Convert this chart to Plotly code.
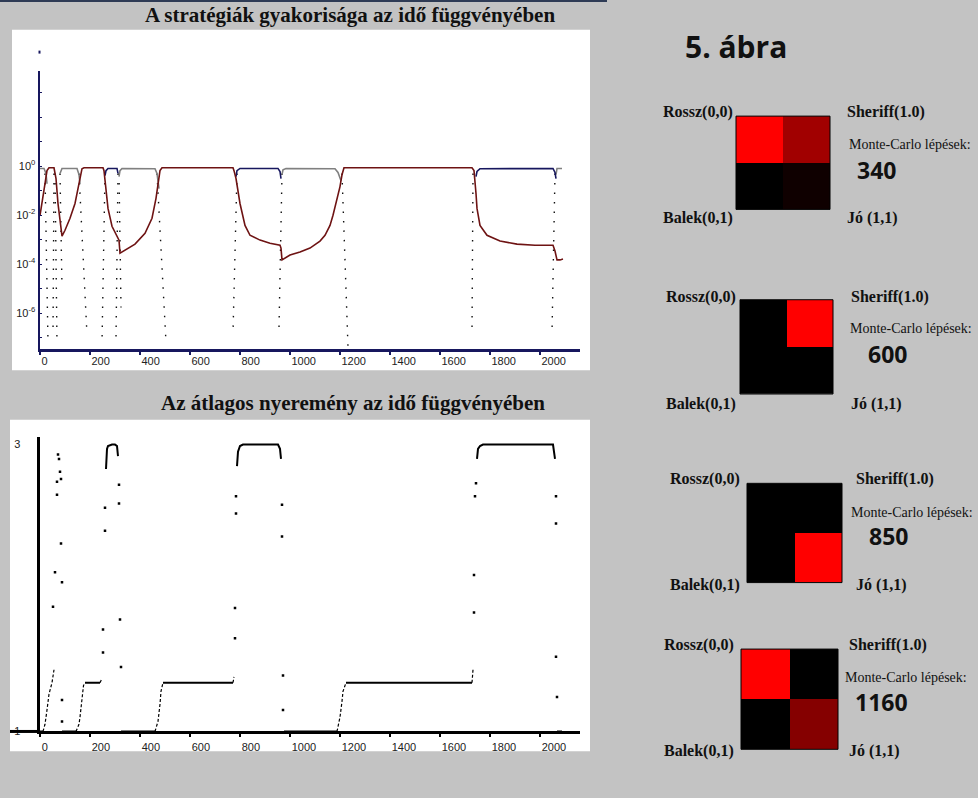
import plotly.graph_objects as go

W, H = 978, 798


def px(x):
    return x / W


def py(y):
    return 1 - y / H


# ---------------- data: strategy frequencies (top chart) ----------------
red_t = [2, 14, 22, 30, 38, 58, 66, 74, 82, 90, 102, 122, 142, 154, 162, 170, 178, 254, 258, 266,
         274, 290, 306, 318, 322, 342, 382, 422, 450, 466, 474, 482, 490, 774, 778, 786, 802, 822,
         842, 882, 922, 962, 966, 970, 1002, 1042, 1082, 1122, 1142, 1162, 1174, 1190, 1202, 1210,
         1218, 1730, 1738, 1746, 1750, 1762, 1790, 1842, 1910, 1982, 2054, 2062, 2070, 2082, 2094]
red_v = [0.0098, 0.048, 0.19, 0.65, 0.85, 0.85, 0.31, 0.0295, 0.0046, 0.00138, 0.0024, 0.0074,
         0.0297, 0.12, 0.37, 0.78, 0.85, 0.85, 0.65, 0.076, 0.0187, 0.0035, 0.00166, 0.00095,
         0.00028, 0.00037, 0.00065, 0.0018, 0.0074, 0.048, 0.23, 0.65, 0.85, 0.85, 0.65, 0.31,
         0.0297, 0.0038, 0.0015, 0.00095, 0.00071, 0.00059, 0.00045, 0.000148, 0.000234, 0.00031,
         0.00045, 0.00087, 0.0015, 0.0038, 0.0098, 0.048, 0.145, 0.44, 0.85, 0.85, 0.65, 0.076,
         0.0187, 0.0038, 0.0015, 0.00087, 0.00065, 0.00059, 0.00059, 0.00034, 0.000148, 0.000148,
         0.00016]

navy_t = [262, 266, 274, 310, 314, None, 786, 790, 802, 954, 962, 966, None,
          1746, 1750, 1762, 2054, 2062, 2066]
navy_v = [0.41, 0.65, 0.8, 0.8, 0.5, None, 0.37, 0.65, 0.8, 0.8, 0.6, 0.31, None,
          0.37, 0.6, 0.78, 0.8, 0.55, 0.31]

gray_t = [2, 18, 26, 30, None, 82, 90, 150, 158, 162, None, 318, 322, 330, 462, 470, 478, None,
          970, 974, 986, 1182, 1194, 1206, None, 2066, 2070, 2090]
gray_v = [0.8, 0.8, 0.5, 0.19, None, 0.5, 0.8, 0.8, 0.45, 0.19, None, 0.37, 0.65, 0.8, 0.78, 0.5,
          0.12, None, 0.45, 0.7, 0.8, 0.78, 0.55, 0.25, None, 0.45, 0.8, 0.8]

# fast extinctions / invasions (sparsely sampled, shown dotted)
trans_t_top = [22, 58, 62, 82, 158, 262, 314, 318, 470, 790, 970, 1210, 1734, 2062]
trans_t_bot = [34, 54, 70, 90, 190, 250, 306, 326, 506, 774, 958, 1234, 1730, 2050]
trans_v_top = [0.5, 0.5, 0.5, 0.5, 0.5, 0.5, 0.5, 0.5, 0.5, 0.5, 0.5, 0.5, 0.5, 0.5]
trans_v_bot = [6.5e-8, 1.6e-7, 5.5e-8, 1.1e-5, 1.3e-7, 6.5e-8, 9.5e-8, 1.7e-6, 6.5e-8,
               1.6e-7, 2.6e-7, 4e-8, 2e-7, 1.6e-7]

freq_tick_vals = [1e-6, 1e-4, 1e-2, 1]
freq_tick_text = ["10<sup>-6</sup>", "10<sup>-4</sup>", "10<sup>-2</sup>", "10<sup>0</sup>"]
freq_minor_vals = [1e-7, 1e-6, 1e-5, 1e-4, 1e-3, 1e-2, 1e-1, 1, 10, 100, 1000]

# ---------------- data: average payoff (bottom chart) ----------------
pay_t = [0, 14, None, 90, 146, None, 182, 242, None, 266, 270, 274, 290, 302, 310, 314, None,
         326, 462, None, 494, 774, None, 790, 794, 802, 814, 954, 962, 966, None, 978, 1190, None,
         1226, 1730, None, 1750, 1754, 1762, 1774, 2054, 2058, 2062, None, 2070, 2090]
pay_v = [1, 1, None, 1, 1, None, 1.34, 1.34, None, 2.83, 2.97, 2.99, 3.0, 3.0, 2.99, 2.92, None,
         1, 1, None, 1.34, 1.34, None, 2.85, 2.95, 2.99, 3.0, 3.0, 2.97, 2.9, None, 1, 1, None,
         1.34, 1.34, None, 2.9, 2.97, 2.99, 3.0, 3.0, 2.95, 2.9, None, 1, 1]

rise_t = [14, 22, 30, 38, 50, 58, None, 146, 158, 162, 170, 176, 182, None, 242, 250, None,
          462, 474, 482, 486, 494, None, 774, 778, None, 1190, 1202, 1210, 1214, 1226, None,
          1730, 1734]
rise_v = [1.0, 1.05, 1.15, 1.26, 1.34, 1.43, None, 1.0, 1.05, 1.1, 1.26, 1.32, 1.34, None,
          1.34, 1.37, None, 1.0, 1.07, 1.19, 1.28, 1.34, None, 1.34, 1.38, None, 1.0, 1.10,
          1.21, 1.28, 1.34, None, 1.34, 1.43]

dot_t = [54, 62, 70, 70, 74, 78, 82, 86, 86, 90, 90, 90, 254, 254, 262, 262, 318, 318, 322, 326,
         782, 782, 786, 786, 970, 970, 974, 974, 1738, 1738, 1742, 1746, 2066, 2066, 2066, 2070]
dot_v = [1.87, 2.11, 2.74, 2.65, 2.93, 2.90, 2.81, 2.76, 2.31, 2.04, 1.22, 1.07, 1.55, 1.71,
         2.40, 2.56, 2.72, 2.59, 1.78, 1.45, 1.65, 1.86, 2.52, 2.64, 2.58, 2.36, 1.39, 1.15,
         1.83, 2.09, 2.64, 2.73, 2.64, 2.45, 1.52, 1.24]

pay_tick_vals = [1, 3]
pay_tick_text = ["1", "3"]
time_tick_vals = [0, 200, 400, 600, 800, 1000, 1200, 1400, 1600, 1800, 2000]

# ---------------- data: strategy lattice snapshots ----------------
strategy_names = ["Rossz(0,0)", "Sheriff(1.0)", "Balek(0,1)", "Jó (1,1)"]
snapshot_steps = ["340", "600", "850", "1160"]
# red intensity of each strategy cell: [[Rossz, Sheriff], [Balek, Jó]]
snapshot_z = [
    [[1.0, 0.63], [0.0, 0.06]],
    [[0.0, 1.0], [0.0, 0.0]],
    [[0.0, 0.0], [0.0, 1.0]],
    [[1.0, 0.0], [0.0, 0.52]],
]

# ---------------- layout geometry (pixels) ----------------
BG = "#c3c3c3"
NAVY = "#17175e"
top_area = dict(x0=39.5, x1=580, y0=72, y1=352)
bot_area = dict(x0=39.5, x1=580, y0=440, y1=737)
hm_boxes = [
    (736, 830, 117, 211),
    (740, 833, 302, 397),
    (747, 842, 487, 587),
    (741, 838, 654, 755),
]
# label anchor points per panel: (left col x, right col x, top y, bottom y, mc x, mc y, num x, num y)
hm_labels = [
    (661, 845, 113, 220, 847, 146, 855, 171),
    (664, 849, 299, 407, 848, 331, 866, 357),
    (668, 854, 483, 589, 849, 516, 867, 540),
    (662, 847, 650, 757, 843, 683, 853, 707),
]

fig = go.Figure()

# ---- top chart traces ----
trans_x, trans_y = [], []
for a, b, va, vb in zip(trans_t_top, trans_t_bot, trans_v_top, trans_v_bot):
    trans_x += [a, b, None]
    trans_y += [va, vb, None]
fig.add_trace(go.Scatter(x=trans_x, y=trans_y, mode="lines", xaxis="x", yaxis="y",
                         line=dict(color="#101010", width=1.4, dash="1.5px,8px"),
                         hoverinfo="skip"))
fig.add_trace(go.Scatter(x=gray_t, y=gray_v, mode="lines", xaxis="x", yaxis="y",
                         line=dict(color="#808080", width=1.6), name="gray"))
fig.add_trace(go.Scatter(x=navy_t, y=navy_v, mode="lines", xaxis="x", yaxis="y",
                         line=dict(color=NAVY, width=1.6), name="navy"))
fig.add_trace(go.Scatter(x=red_t, y=red_v, mode="lines", xaxis="x", yaxis="y",
                         line=dict(color="#6e1313", width=1.6), name="red"))

# ---- bottom chart traces ----
fig.add_trace(go.Scatter(x=rise_t, y=rise_v, mode="lines", xaxis="x2", yaxis="y2",
                         line=dict(color="black", width=1.2, dash="3px,2px")))
fig.add_trace(go.Scatter(x=pay_t, y=pay_v, mode="lines", xaxis="x2", yaxis="y2",
                         line=dict(color="black", width=2)))
fig.add_trace(go.Scatter(x=dot_t, y=dot_v, mode="markers", xaxis="x2", yaxis="y2",
                         marker=dict(color="black", size=2.5, symbol="square", line=dict(width=0))))

# ---- heatmaps ----
for i, z in enumerate(snapshot_z):
    fig.add_trace(go.Heatmap(z=z, x=[0, 1], y=[0, 1], xaxis=f"x{i + 3}", yaxis=f"y{i + 3}",
                             colorscale=[[0, "#000000"], [1, "#ff0000"]], zmin=0, zmax=1,
                             showscale=False, hoverinfo="skip"))

axis_font = dict(family="Liberation Sans, Arial", size=11, color="#222")

layout = dict(
    width=W, height=H, margin=dict(l=0, r=0, t=0, b=0),
    paper_bgcolor=BG, plot_bgcolor="rgba(0,0,0,0)", showlegend=False,
    xaxis=dict(domain=[px(top_area["x0"]), px(top_area["x1"])], range=[0, 2162],
               tickvals=time_tick_vals, ticks="outside", ticklen=3, tickwidth=1.5, tickcolor=NAVY,
               showline=True, linecolor=NAVY, linewidth=2.5, showgrid=False, zeroline=False,
               tickfont=axis_font, ticklabelposition="outside right", anchor="y"),
    yaxis=dict(domain=[py(top_area["y1"]), py(top_area["y0"])], type="log", range=[-7.48, 3.86],
               tickvals=freq_tick_vals, ticktext=freq_tick_text, ticks="", showline=True,
               linecolor=NAVY, linewidth=2, showgrid=False, zeroline=False, tickfont=axis_font,
               minor=dict(tickvals=freq_minor_vals, ticks="inside", ticklen=2, tickcolor=NAVY),
               anchor="x"),
    xaxis2=dict(domain=[px(bot_area["x0"]), px(bot_area["x1"])], range=[0, 2162],
                tickvals=time_tick_vals, ticks="outside", ticklen=3, tickwidth=1.5,
                tickcolor="black", showline=True, linecolor="black", linewidth=3, showgrid=False,
                zeroline=False, tickfont=axis_font, ticklabelposition="outside right",
                ticklabelstandoff=3, anchor="y2"),
    yaxis2=dict(domain=[py(bot_area["y1"]), py(bot_area["y0"])], range=[1, 3.055],
                tickvals=pay_tick_vals, ticktext=pay_tick_text, ticks="", showline=True,
                linecolor="black", linewidth=3, showgrid=False, zeroline=False,
                tickfont=axis_font, ticklabelstandoff=14, anchor="x2"),
)
for i, (x0, x1, y0, y1) in enumerate(hm_boxes):
    layout[f"xaxis{i + 3}"] = dict(domain=[px(x0), px(x1)], range=[-0.5, 1.5], visible=False,
                                   anchor=f"y{i + 3}")
    layout[f"yaxis{i + 3}"] = dict(domain=[py(y1), py(y0)], range=[1.5, -0.5], visible=False,
                                   anchor=f"x{i + 3}")
fig.update_layout(**layout)

shapes = [
    # white chart panels
    dict(type="rect", xref="paper", yref="paper", x0=px(12), x1=px(590), y0=py(373), y1=py(30),
         fillcolor="white", line=dict(width=0), layer="below"),
    dict(type="rect", xref="paper", yref="paper", x0=px(10), x1=px(590), y0=py(757), y1=py(423),
         fillcolor="white", line=dict(width=0), layer="below"),
    # dark line at the top
    dict(type="rect", xref="paper", yref="paper", x0=0, x1=px(607), y0=py(2), y1=1,
         fillcolor="#2e3b55", line=dict(width=0)),
    # left extension of the payoff x-axis
    dict(type="line", xref="paper", yref="paper", x0=px(10), x1=px(40), y0=py(737), y1=py(737),
         line=dict(color="black", width=3)),
    # small mark above the frequency y-axis
    dict(type="rect", xref="paper", yref="paper", x0=px(38.5), x1=px(40.5), y0=py(54), y1=py(51),
         fillcolor=NAVY, line=dict(width=0)),
]
for (x0, x1, y0, y1) in hm_boxes:
    shapes.append(dict(type="rect", xref="paper", yref="paper", x0=px(x0), x1=px(x1),
                       y0=py(y1), y1=py(y0), line=dict(color="black", width=1)))
fig.update_layout(shapes=shapes)

ann = []
title_font = dict(family="Liberation Serif, Times New Roman", size=21, color="#111")
ann.append(dict(text="<b>A stratégiák gyakorisága az idő függvényében</b>", x=px(350), y=py(15),
                xref="paper", yref="paper", showarrow=False, xanchor="center", yanchor="middle",
                font=title_font))
ann.append(dict(text="<b>Az átlagos nyeremény az idő függvényében</b>", x=px(353), y=py(406),
                xref="paper", yref="paper", showarrow=False, xanchor="center", yanchor="middle",
                font=title_font))
ann.append(dict(text="<b>5. ábra</b>", x=px(683), y=py(47), xref="paper", yref="paper",
                showarrow=False, xanchor="left", yanchor="middle",
                font=dict(family="Open Sans", size=30, color="#111")))

lab_font = dict(family="Liberation Serif, Times New Roman", size=16, color="#111")
for i, (lx, rx, ty, by, mx, mcy, nx, ny) in enumerate(hm_labels):
    for text, x, y in [(strategy_names[0], lx, ty), (strategy_names[1], rx, ty),
                       (strategy_names[2], lx, by), (strategy_names[3], rx, by)]:
        ann.append(dict(text=f"<b>{text}</b>", x=px(x), y=py(y), xref="paper", yref="paper",
                        showarrow=False, xanchor="left", yanchor="middle", font=lab_font))
    ann.append(dict(text="Monte-Carlo lépések:", x=px(mx), y=py(mcy), xref="paper",
                    yref="paper", showarrow=False, xanchor="left", yanchor="middle",
                    font=dict(family="Liberation Serif, Times New Roman", size=14, color="#111")))
    ann.append(dict(text=f"<b>{snapshot_steps[i]}</b>", x=px(nx), y=py(ny), xref="paper",
                    yref="paper", showarrow=False, xanchor="left", yanchor="middle",
                    font=dict(family="Open Sans", size=23, color="#111")))
fig.update_layout(annotations=ann)

fig.write_html("out.html")
